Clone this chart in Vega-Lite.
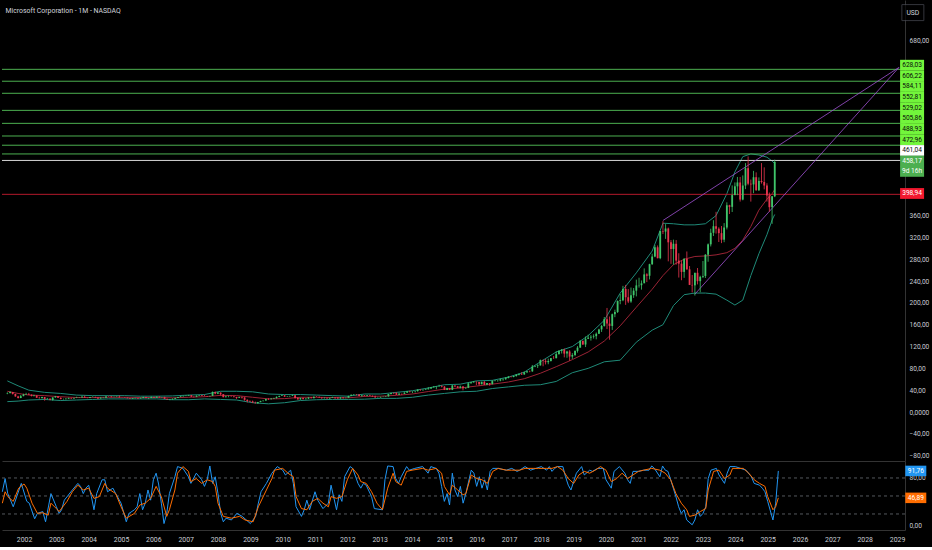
{
  "$schema": "https://vega.github.io/schema/vega-lite/v6.json",
  "background": "#000000",
  "padding": {"left": 0, "top": 0, "right": 4, "bottom": 5},
  "spacing": 0,
  "bounds": "flush",
  "config": {
    "view": {"stroke": null},
    "font": "Roboto, sans-serif",
    "axis": {"grid": false, "ticks": false, "labelOverlap": false, "labelColor": "#c9ccd4", "domainColor": "#333333", "labelFont": "Roboto, sans-serif", "labelFontSize": 6.6},
    "axisY": {"labelOverlap": false},
    "axisRight": {"labelOverlap": false}
  },
  "datasets": {
    "bars": [
      {"t":"2001-05","o":33.9,"h":36.0,"l":32.6,"c":34.6},{"t":"2001-06","o":34.6,"h":38.1,"l":33.9,"c":36.5},{"t":"2001-07","o":36.5,"h":36.7,"l":32.0,"c":33.1},{"t":"2001-08","o":33.1,"h":33.4,"l":28.0,"c":28.5},
      {"t":"2001-09","o":28.5,"h":29.8,"l":24.8,"c":25.6},{"t":"2001-10","o":25.6,"h":31.2,"l":25.4,"c":29.1},{"t":"2001-11","o":29.1,"h":33.4,"l":28.8,"c":32.1},{"t":"2001-12","o":32.1,"h":35.2,"l":32.0,"c":33.1},
      {"t":"2002-01","o":33.1,"h":35.0,"l":31.2,"c":31.9},{"t":"2002-02","o":31.9,"h":32.0,"l":28.7,"c":29.2},{"t":"2002-03","o":29.2,"h":31.7,"l":28.4,"c":30.2},{"t":"2002-04","o":30.2,"h":30.5,"l":25.8,"c":26.1},
      {"t":"2002-05","o":26.1,"h":28.0,"l":24.3,"c":25.5},{"t":"2002-06","o":25.5,"h":27.9,"l":24.4,"c":27.4},{"t":"2002-07","o":27.4,"h":27.6,"l":20.7,"c":24.0},{"t":"2002-08","o":24.0,"h":25.9,"l":23.0,"c":24.5},
      {"t":"2002-09","o":24.5,"h":25.2,"l":21.4,"c":21.9},{"t":"2002-10","o":21.9,"h":27.0,"l":20.8,"c":26.7},{"t":"2002-11","o":26.7,"h":29.4,"l":26.3,"c":28.9},{"t":"2002-12","o":28.9,"h":29.0,"l":25.6,"c":25.9},
      {"t":"2003-01","o":25.9,"h":27.0,"l":23.3,"c":23.7},{"t":"2003-02","o":23.7,"h":24.6,"l":22.7,"c":23.7},{"t":"2003-03","o":23.7,"h":25.4,"l":22.6,"c":24.2},{"t":"2003-04","o":24.2,"h":26.4,"l":24.0,"c":25.6},
      {"t":"2003-05","o":25.6,"h":26.2,"l":24.5,"c":24.6},{"t":"2003-06","o":24.6,"h":26.4,"l":24.2,"c":25.6},{"t":"2003-07","o":25.6,"h":28.0,"l":25.5,"c":26.4},{"t":"2003-08","o":26.4,"h":27.0,"l":25.6,"c":26.5},
      {"t":"2003-09","o":26.5,"h":29.9,"l":26.4,"c":27.8},{"t":"2003-10","o":27.8,"h":30.0,"l":26.0,"c":26.1},{"t":"2003-11","o":26.1,"h":26.4,"l":25.1,"c":25.7},{"t":"2003-12","o":25.7,"h":27.6,"l":25.5,"c":27.4},
      {"t":"2004-01","o":27.4,"h":28.8,"l":26.9,"c":27.6},{"t":"2004-02","o":27.6,"h":28.1,"l":26.3,"c":26.5},{"t":"2004-03","o":26.5,"h":27.2,"l":24.0,"c":24.9},{"t":"2004-04","o":24.9,"h":27.2,"l":24.6,"c":26.1},
      {"t":"2004-05","o":26.1,"h":26.9,"l":25.4,"c":26.2},{"t":"2004-06","o":26.2,"h":28.9,"l":26.0,"c":28.6},{"t":"2004-07","o":28.6,"h":29.9,"l":28.0,"c":28.5},{"t":"2004-08","o":28.5,"h":28.7,"l":26.8,"c":27.3},
      {"t":"2004-09","o":27.3,"h":28.5,"l":26.9,"c":27.7},{"t":"2004-10","o":27.7,"h":28.8,"l":27.3,"c":28.0},{"t":"2004-11","o":28.0,"h":30.2,"l":26.3,"c":26.8},{"t":"2004-12","o":26.8,"h":27.4,"l":26.6,"c":26.7},
      {"t":"2005-01","o":26.7,"h":27.0,"l":25.6,"c":26.3},{"t":"2005-02","o":26.3,"h":26.6,"l":25.1,"c":25.2},{"t":"2005-03","o":25.2,"h":25.4,"l":23.9,"c":24.2},{"t":"2005-04","o":24.2,"h":25.6,"l":23.8,"c":25.3},
      {"t":"2005-05","o":25.3,"h":26.0,"l":25.1,"c":25.8},{"t":"2005-06","o":25.8,"h":26.1,"l":24.6,"c":24.8},{"t":"2005-07","o":24.8,"h":27.0,"l":24.6,"c":25.6},{"t":"2005-08","o":25.6,"h":27.9,"l":25.5,"c":27.4},
      {"t":"2005-09","o":27.4,"h":27.9,"l":25.2,"c":25.7},{"t":"2005-10","o":25.7,"h":25.9,"l":23.8,"c":25.7},{"t":"2005-11","o":25.7,"h":28.2,"l":25.6,"c":27.7},{"t":"2005-12","o":27.7,"h":28.1,"l":26.1,"c":26.1},
      {"t":"2006-01","o":26.1,"h":28.4,"l":26.1,"c":28.2},{"t":"2006-02","o":28.2,"h":28.2,"l":26.3,"c":26.9},{"t":"2006-03","o":26.9,"h":27.6,"l":26.6,"c":27.2},{"t":"2006-04","o":27.2,"h":27.9,"l":23.9,"c":24.2},
      {"t":"2006-05","o":24.2,"h":24.3,"l":22.5,"c":22.7},{"t":"2006-06","o":22.7,"h":23.6,"l":21.5,"c":23.3},{"t":"2006-07","o":23.3,"h":25.0,"l":22.2,"c":24.1},{"t":"2006-08","o":24.1,"h":26.2,"l":23.9,"c":25.7},
      {"t":"2006-09","o":25.7,"h":27.6,"l":25.6,"c":27.4},{"t":"2006-10","o":27.4,"h":29.0,"l":27.3,"c":28.7},{"t":"2006-11","o":28.7,"h":30.0,"l":28.5,"c":29.4},{"t":"2006-12","o":29.4,"h":30.3,"l":29.0,"c":29.9},
      {"t":"2007-01","o":29.9,"h":31.5,"l":29.4,"c":30.9},{"t":"2007-02","o":30.9,"h":31.0,"l":27.8,"c":28.2},{"t":"2007-03","o":28.2,"h":28.6,"l":26.6,"c":27.9},{"t":"2007-04","o":27.9,"h":30.3,"l":27.4,"c":29.9},
      {"t":"2007-05","o":29.9,"h":31.2,"l":29.5,"c":30.7},{"t":"2007-06","o":30.7,"h":31.2,"l":29.4,"c":29.5},{"t":"2007-07","o":29.5,"h":31.8,"l":28.9,"c":29.0},{"t":"2007-08","o":29.0,"h":29.5,"l":27.5,"c":28.7},
      {"t":"2007-09","o":28.7,"h":29.9,"l":28.1,"c":29.5},{"t":"2007-10","o":29.5,"h":37.5,"l":29.3,"c":36.8},{"t":"2007-11","o":36.8,"h":37.3,"l":32.5,"c":33.6},{"t":"2007-12","o":33.6,"h":36.7,"l":32.8,"c":35.6},
      {"t":"2008-01","o":35.6,"h":35.9,"l":30.0,"c":32.6},{"t":"2008-02","o":32.6,"h":33.0,"l":26.9,"c":27.2},{"t":"2008-03","o":27.2,"h":29.6,"l":26.8,"c":28.4},{"t":"2008-04","o":28.4,"h":30.2,"l":27.0,"c":28.5},
      {"t":"2008-05","o":28.5,"h":30.0,"l":27.9,"c":28.3},{"t":"2008-06","o":28.3,"h":29.0,"l":26.5,"c":27.5},{"t":"2008-07","o":27.5,"h":27.8,"l":23.9,"c":25.7},{"t":"2008-08","o":25.7,"h":28.1,"l":25.6,"c":27.3},
      {"t":"2008-09","o":27.3,"h":28.5,"l":24.6,"c":26.7},{"t":"2008-10","o":26.7,"h":27.0,"l":20.7,"c":22.3},{"t":"2008-11","o":22.3,"h":23.2,"l":17.5,"c":20.2},{"t":"2008-12","o":20.2,"h":21.3,"l":18.5,"c":19.4},
      {"t":"2009-01","o":19.4,"h":21.0,"l":16.7,"c":17.1},{"t":"2009-02","o":17.1,"h":19.0,"l":15.4,"c":16.2},{"t":"2009-03","o":16.2,"h":18.5,"l":15.1,"c":18.4},{"t":"2009-04","o":18.4,"h":20.5,"l":17.9,"c":20.3},
      {"t":"2009-05","o":20.3,"h":21.2,"l":19.2,"c":20.9},{"t":"2009-06","o":20.9,"h":24.3,"l":20.8,"c":23.8},{"t":"2009-07","o":23.8,"h":25.7,"l":22.0,"c":23.5},{"t":"2009-08","o":23.5,"h":25.2,"l":22.9,"c":24.7},
      {"t":"2009-09","o":24.7,"h":26.1,"l":24.3,"c":25.7},{"t":"2009-10","o":25.7,"h":28.6,"l":24.4,"c":27.7},{"t":"2009-11","o":27.7,"h":30.0,"l":27.0,"c":29.4},{"t":"2009-12","o":29.4,"h":31.5,"l":29.3,"c":30.5},
      {"t":"2010-01","o":30.5,"h":31.2,"l":27.7,"c":28.2},{"t":"2010-02","o":28.2,"h":29.0,"l":27.6,"c":28.7},{"t":"2010-03","o":28.7,"h":29.9,"l":28.2,"c":29.3},{"t":"2010-04","o":29.3,"h":31.6,"l":29.2,"c":30.5},
      {"t":"2010-05","o":30.5,"h":31.0,"l":24.5,"c":25.8},{"t":"2010-06","o":25.8,"h":27.0,"l":22.9,"c":23.0},{"t":"2010-07","o":23.0,"h":26.4,"l":22.7,"c":25.8},{"t":"2010-08","o":25.8,"h":26.3,"l":23.3,"c":23.5},
      {"t":"2010-09","o":23.5,"h":25.3,"l":23.2,"c":24.5},{"t":"2010-10","o":24.5,"h":27.2,"l":23.8,"c":26.7},{"t":"2010-11","o":26.7,"h":27.5,"l":25.1,"c":25.3},{"t":"2010-12","o":25.3,"h":28.4,"l":25.2,"c":27.9},
      {"t":"2011-01","o":27.9,"h":28.9,"l":27.4,"c":27.7},{"t":"2011-02","o":27.7,"h":28.3,"l":26.4,"c":26.6},{"t":"2011-03","o":26.6,"h":26.8,"l":24.2,"c":25.4},{"t":"2011-04","o":25.4,"h":26.9,"l":24.8,"c":26.0},
      {"t":"2011-05","o":26.0,"h":26.2,"l":24.0,"c":25.0},{"t":"2011-06","o":25.0,"h":26.2,"l":23.6,"c":26.0},{"t":"2011-07","o":26.0,"h":28.0,"l":25.9,"c":27.4},{"t":"2011-08","o":27.4,"h":27.5,"l":23.8,"c":26.6},
      {"t":"2011-09","o":26.6,"h":27.5,"l":24.2,"c":24.9},{"t":"2011-10","o":24.9,"h":27.4,"l":24.3,"c":26.6},{"t":"2011-11","o":26.6,"h":27.2,"l":24.3,"c":25.6},{"t":"2011-12","o":25.6,"h":26.2,"l":25.0,"c":26.0},
      {"t":"2012-01","o":26.0,"h":29.9,"l":26.0,"c":29.5},{"t":"2012-02","o":29.5,"h":31.9,"l":29.5,"c":31.7},{"t":"2012-03","o":31.7,"h":32.9,"l":31.3,"c":32.3},{"t":"2012-04","o":32.3,"h":32.9,"l":30.6,"c":32.0},
      {"t":"2012-05","o":32.0,"h":32.5,"l":28.9,"c":29.2},{"t":"2012-06","o":29.2,"h":30.9,"l":28.3,"c":30.6},{"t":"2012-07","o":30.6,"h":31.0,"l":28.5,"c":29.5},{"t":"2012-08","o":29.5,"h":31.0,"l":29.2,"c":30.8},
      {"t":"2012-09","o":30.8,"h":31.6,"l":29.6,"c":29.8},{"t":"2012-10","o":29.8,"h":30.2,"l":27.9,"c":28.5},{"t":"2012-11","o":28.5,"h":30.0,"l":26.3,"c":26.6},{"t":"2012-12","o":26.6,"h":27.7,"l":26.3,"c":26.7},
      {"t":"2013-01","o":26.7,"h":28.2,"l":26.3,"c":27.5},{"t":"2013-02","o":27.5,"h":28.2,"l":27.3,"c":27.8},{"t":"2013-03","o":27.8,"h":28.8,"l":27.6,"c":28.6},{"t":"2013-04","o":28.6,"h":33.1,"l":28.3,"c":33.1},
      {"t":"2013-05","o":33.1,"h":35.3,"l":32.0,"c":34.9},{"t":"2013-06","o":34.9,"h":35.8,"l":32.6,"c":34.5},{"t":"2013-07","o":34.5,"h":36.4,"l":31.2,"c":31.8},{"t":"2013-08","o":31.8,"h":35.2,"l":31.1,"c":33.4},
      {"t":"2013-09","o":33.4,"h":34.0,"l":31.0,"c":33.3},{"t":"2013-10","o":33.3,"h":36.3,"l":33.1,"c":35.4},{"t":"2013-11","o":35.4,"h":38.3,"l":35.2,"c":38.1},{"t":"2013-12","o":38.1,"h":38.9,"l":35.8,"c":37.4},
      {"t":"2014-01","o":37.4,"h":37.9,"l":34.6,"c":37.8},{"t":"2014-02","o":37.8,"h":38.5,"l":35.7,"c":38.3},{"t":"2014-03","o":38.3,"h":41.5,"l":37.3,"c":41.0},{"t":"2014-04","o":41.0,"h":41.7,"l":38.5,"c":40.4},
      {"t":"2014-05","o":40.4,"h":41.0,"l":38.5,"c":40.9},{"t":"2014-06","o":40.9,"h":42.3,"l":40.2,"c":41.7},{"t":"2014-07","o":41.7,"h":45.7,"l":41.3,"c":43.2},{"t":"2014-08","o":43.2,"h":45.6,"l":42.1,"c":45.4},
      {"t":"2014-09","o":45.4,"h":47.6,"l":44.7,"c":46.4},{"t":"2014-10","o":46.4,"h":47.0,"l":41.6,"c":47.0},{"t":"2014-11","o":47.0,"h":50.0,"l":46.6,"c":47.8},{"t":"2014-12","o":47.8,"h":49.0,"l":45.0,"c":46.5},
      {"t":"2015-01","o":46.5,"h":47.4,"l":40.2,"c":40.4},{"t":"2015-02","o":40.4,"h":44.3,"l":40.1,"c":43.9},{"t":"2015-03","o":43.9,"h":44.2,"l":40.2,"c":40.7},{"t":"2015-04","o":40.7,"h":49.5,"l":40.1,"c":48.6},
      {"t":"2015-05","o":48.6,"h":48.9,"l":46.2,"c":46.9},{"t":"2015-06","o":46.9,"h":47.8,"l":44.1,"c":44.2},{"t":"2015-07","o":44.2,"h":48.4,"l":43.3,"c":46.7},{"t":"2015-08","o":46.7,"h":47.5,"l":39.7,"c":43.5},
      {"t":"2015-09","o":43.5,"h":45.0,"l":42.5,"c":44.3},{"t":"2015-10","o":44.3,"h":54.0,"l":43.8,"c":52.6},{"t":"2015-11","o":52.6,"h":54.8,"l":52.0,"c":54.4},{"t":"2015-12","o":54.4,"h":56.8,"l":53.7,"c":55.5},
      {"t":"2016-01","o":55.5,"h":56.0,"l":49.1,"c":55.1},{"t":"2016-02","o":55.1,"h":55.1,"l":48.2,"c":50.9},{"t":"2016-03","o":50.9,"h":55.6,"l":50.6,"c":55.2},{"t":"2016-04","o":55.2,"h":56.8,"l":49.4,"c":49.9},
      {"t":"2016-05","o":49.9,"h":53.0,"l":49.5,"c":53.0},{"t":"2016-06","o":53.0,"h":52.9,"l":48.0,"c":51.2},{"t":"2016-07","o":51.2,"h":58.5,"l":50.4,"c":56.7},{"t":"2016-08","o":56.7,"h":58.5,"l":56.1,"c":57.5},
      {"t":"2016-09","o":57.5,"h":58.7,"l":55.6,"c":57.6},{"t":"2016-10","o":57.6,"h":61.4,"l":56.3,"c":59.9},{"t":"2016-11","o":59.9,"h":61.4,"l":57.3,"c":60.3},{"t":"2016-12","o":60.3,"h":64.1,"l":58.8,"c":62.1},
      {"t":"2017-01","o":62.1,"h":65.9,"l":61.9,"c":64.7},{"t":"2017-02","o":64.7,"h":65.2,"l":63.6,"c":64.0},{"t":"2017-03","o":64.0,"h":66.2,"l":63.6,"c":65.9},{"t":"2017-04","o":65.9,"h":69.1,"l":64.8,"c":68.5},
      {"t":"2017-05","o":68.5,"h":70.7,"l":67.1,"c":69.8},{"t":"2017-06","o":69.8,"h":72.9,"l":67.9,"c":68.9},{"t":"2017-07","o":68.9,"h":74.4,"l":68.0,"c":72.7},{"t":"2017-08","o":72.7,"h":74.9,"l":71.3,"c":74.8},
      {"t":"2017-09","o":74.8,"h":75.9,"l":72.9,"c":74.5},{"t":"2017-10","o":74.5,"h":86.2,"l":73.7,"c":83.2},{"t":"2017-11","o":83.2,"h":85.1,"l":82.2,"c":84.2},{"t":"2017-12","o":84.2,"h":87.5,"l":80.7,"c":85.5},
      {"t":"2018-01","o":85.5,"h":96.1,"l":85.0,"c":95.0},{"t":"2018-02","o":95.0,"h":96.1,"l":83.8,"c":93.8},{"t":"2018-03","o":93.8,"h":97.2,"l":87.1,"c":91.3},{"t":"2018-04","o":91.3,"h":97.9,"l":87.5,"c":93.5},
      {"t":"2018-05","o":93.5,"h":99.0,"l":92.5,"c":98.8},{"t":"2018-06","o":98.8,"h":102.7,"l":97.3,"c":98.6},{"t":"2018-07","o":98.6,"h":111.2,"l":98.4,"c":106.1},{"t":"2018-08","o":106.1,"h":112.8,"l":104.8,"c":112.3},
      {"t":"2018-09","o":112.3,"h":115.3,"l":107.2,"c":114.4},{"t":"2018-10","o":114.4,"h":116.2,"l":100.1,"c":107.0},{"t":"2018-11","o":107.0,"h":112.2,"l":99.4,"c":110.9},{"t":"2018-12","o":110.9,"h":113.4,"l":93.9,"c":101.6},
      {"t":"2019-01","o":101.6,"h":107.9,"l":97.2,"c":104.4},{"t":"2019-02","o":104.4,"h":113.2,"l":102.3,"c":112.0},{"t":"2019-03","o":112.0,"h":120.8,"l":108.8,"c":117.9},{"t":"2019-04","o":117.9,"h":131.4,"l":118.1,"c":130.6},
      {"t":"2019-05","o":130.6,"h":130.7,"l":123.0,"c":123.7},{"t":"2019-06","o":123.7,"h":138.4,"l":119.0,"c":134.0},{"t":"2019-07","o":134.0,"h":141.7,"l":134.7,"c":136.3},{"t":"2019-08","o":136.3,"h":140.9,"l":130.8,"c":137.9},
      {"t":"2019-09","o":137.9,"h":142.4,"l":134.5,"c":139.0},{"t":"2019-10","o":139.0,"h":145.7,"l":133.2,"c":143.4},{"t":"2019-11","o":143.4,"h":152.5,"l":143.0,"c":151.4},{"t":"2019-12","o":151.4,"h":159.6,"l":146.7,"c":157.7},
      {"t":"2020-01","o":157.7,"h":174.1,"l":156.5,"c":170.2},{"t":"2020-02","o":170.2,"h":190.7,"l":152.0,"c":162.0},{"t":"2020-03","o":162.0,"h":175.0,"l":132.5,"c":157.7},{"t":"2020-04","o":157.7,"h":180.4,"l":150.4,"c":179.2},
      {"t":"2020-05","o":179.2,"h":187.5,"l":173.8,"c":183.3},{"t":"2020-06","o":183.3,"h":204.4,"l":181.4,"c":203.5},{"t":"2020-07","o":203.5,"h":216.4,"l":197.5,"c":205.0},{"t":"2020-08","o":205.0,"h":231.2,"l":203.1,"c":225.5},
      {"t":"2020-09","o":225.5,"h":232.9,"l":196.3,"c":210.3},{"t":"2020-10","o":210.3,"h":225.2,"l":199.6,"c":202.5},{"t":"2020-11","o":202.5,"h":228.1,"l":200.1,"c":214.1},{"t":"2020-12","o":214.1,"h":227.2,"l":209.1,"c":222.4},
      {"t":"2021-01","o":222.4,"h":242.6,"l":211.9,"c":232.0},{"t":"2021-02","o":232.0,"h":246.1,"l":227.9,"c":232.4},{"t":"2021-03","o":232.4,"h":241.1,"l":224.3,"c":235.8},{"t":"2021-04","o":235.8,"h":263.2,"l":238.1,"c":252.2},
      {"t":"2021-05","o":252.2,"h":254.4,"l":238.1,"c":249.7},{"t":"2021-06","o":249.7,"h":271.7,"l":243.0,"c":270.9},{"t":"2021-07","o":270.9,"h":290.2,"l":269.6,"c":284.9},{"t":"2021-08","o":284.9,"h":305.8,"l":283.7,"c":301.9},
      {"t":"2021-09","o":301.9,"h":305.3,"l":281.6,"c":281.9},{"t":"2021-10","o":281.9,"h":332.0,"l":280.0,"c":331.6},{"t":"2021-11","o":331.6,"h":349.7,"l":326.1,"c":330.6},{"t":"2021-12","o":330.6,"h":344.3,"l":317.3,"c":336.3},
      {"t":"2022-01","o":336.3,"h":338.0,"l":276.1,"c":311.0},{"t":"2022-02","o":311.0,"h":315.1,"l":271.5,"c":298.8},{"t":"2022-03","o":298.8,"h":315.9,"l":270.0,"c":308.3},{"t":"2022-04","o":308.3,"h":315.1,"l":270.0,"c":277.5},
      {"t":"2022-05","o":277.5,"h":290.9,"l":246.4,"c":271.9},{"t":"2022-06","o":271.9,"h":277.7,"l":241.5,"c":256.8},{"t":"2022-07","o":256.8,"h":282.0,"l":245.9,"c":280.7},{"t":"2022-08","o":280.7,"h":294.2,"l":260.7,"c":261.5},
      {"t":"2022-09","o":261.5,"h":267.5,"l":232.7,"c":232.9},{"t":"2022-10","o":232.9,"h":251.0,"l":219.1,"c":232.1},{"t":"2022-11","o":232.1,"h":255.3,"l":213.4,"c":255.1},{"t":"2022-12","o":255.1,"h":263.9,"l":233.9,"c":239.8},
      {"t":"2023-01","o":239.8,"h":249.8,"l":219.4,"c":247.8},{"t":"2023-02","o":247.8,"h":276.8,"l":245.5,"c":249.4},{"t":"2023-03","o":249.4,"h":289.3,"l":245.6,"c":288.3},{"t":"2023-04","o":288.3,"h":308.9,"l":275.4,"c":307.3},
      {"t":"2023-05","o":307.3,"h":335.9,"l":303.4,"c":328.4},{"t":"2023-06","o":328.4,"h":351.5,"l":322.5,"c":340.5},{"t":"2023-07","o":340.5,"h":366.8,"l":327.0,"c":335.9},{"t":"2023-08","o":335.9,"h":338.5,"l":311.6,"c":327.8},
      {"t":"2023-09","o":327.8,"h":340.9,"l":309.5,"c":315.8},{"t":"2023-10","o":315.8,"h":346.2,"l":311.2,"c":338.1},{"t":"2023-11","o":338.1,"h":384.3,"l":334.6,"c":378.9},{"t":"2023-12","o":378.9,"h":379.8,"l":362.9,"c":376.0},
      {"t":"2024-01","o":376.0,"h":415.3,"l":366.5,"c":397.6},{"t":"2024-02","o":397.6,"h":420.8,"l":397.2,"c":413.6},{"t":"2024-03","o":413.6,"h":430.8,"l":397.4,"c":420.7},{"t":"2024-04","o":420.7,"h":430.8,"l":385.6,"c":389.3},
      {"t":"2024-05","o":389.3,"h":433.6,"l":388.0,"c":415.1},{"t":"2024-06","o":415.1,"h":456.2,"l":408.5,"c":446.9},{"t":"2024-07","o":446.9,"h":468.4,"l":415.6,"c":418.4},{"t":"2024-08","o":418.4,"h":426.0,"l":385.6,"c":417.1},
      {"t":"2024-09","o":417.1,"h":441.9,"l":401.0,"c":430.3},{"t":"2024-10","o":430.3,"h":439.2,"l":405.6,"c":406.4},{"t":"2024-11","o":406.4,"h":430.0,"l":405.1,"c":423.5},{"t":"2024-12","o":423.5,"h":456.2,"l":418.6,"c":421.5},
      {"t":"2025-01","o":421.5,"h":448.4,"l":408.1,"c":415.1},{"t":"2025-02","o":415.1,"h":419.3,"l":385.6,"c":397.0},{"t":"2025-03","o":397.0,"h":402.2,"l":367.2,"c":375.4},{"t":"2025-04","o":375.4,"h":395.9,"l":344.8,"c":395.3},
      {"t":"2025-05","o":395.3,"h":462.5,"l":393.8,"c":458.17}
    ],
    "bb": [
      {"t":"2001-05","u":57,"m":38,"lo":19},{"t":"2001-09","u":48,"m":34,"lo":20},{"t":"2002-01","u":40,"m":31,"lo":22},{"t":"2002-07","u":36,"m":30,"lo":23},
      {"t":"2003-01","u":34,"m":28,"lo":21},{"t":"2003-07","u":31,"m":26.5,"lo":22},{"t":"2004-01","u":30,"m":26.5,"lo":23},{"t":"2004-07","u":30,"m":27,"lo":24},
      {"t":"2005-01","u":30,"m":27,"lo":24},{"t":"2005-07","u":29,"m":26.5,"lo":24},{"t":"2006-01","u":29,"m":26.5,"lo":24},{"t":"2006-07","u":29.5,"m":26,"lo":22.5},
      {"t":"2007-01","u":31,"m":27,"lo":22.5},{"t":"2007-07","u":32,"m":28,"lo":24},{"t":"2008-01","u":38,"m":30.5,"lo":23},{"t":"2008-07","u":38,"m":30,"lo":22},
      {"t":"2009-01","u":37,"m":27,"lo":17},{"t":"2009-07","u":33,"m":24,"lo":15},{"t":"2010-01","u":32,"m":24.5,"lo":17},{"t":"2010-07","u":32,"m":27,"lo":21},
      {"t":"2011-01","u":31,"m":27,"lo":22.5},{"t":"2011-07","u":30,"m":26.5,"lo":23},{"t":"2012-01","u":29,"m":26,"lo":23},{"t":"2012-07","u":33,"m":28.5,"lo":23.5},
      {"t":"2013-01","u":33,"m":29,"lo":25},{"t":"2013-07","u":36,"m":30.5,"lo":25},{"t":"2014-01","u":39,"m":33,"lo":27},{"t":"2014-07","u":44,"m":37.5,"lo":31},
      {"t":"2015-01","u":50,"m":42,"lo":34},{"t":"2015-07","u":51,"m":44,"lo":37},{"t":"2016-01","u":57,"m":47.5,"lo":38},{"t":"2016-07","u":58,"m":51,"lo":43},
      {"t":"2017-01","u":64,"m":55,"lo":46},{"t":"2017-07","u":73,"m":61,"lo":49},{"t":"2018-01","u":92,"m":71,"lo":50},{"t":"2018-07","u":110,"m":83,"lo":56},
      {"t":"2019-01","u":120,"m":96,"lo":72},{"t":"2019-07","u":140,"m":110,"lo":80},{"t":"2020-01","u":168,"m":130,"lo":92},{"t":"2020-07","u":218,"m":158,"lo":95},
      {"t":"2021-01","u":255,"m":192,"lo":128},{"t":"2021-07","u":295,"m":225,"lo":150},{"t":"2021-11","u":346,"m":250,"lo":160},{"t":"2022-03","u":345,"m":270,"lo":195},
      {"t":"2022-07","u":343,"m":280,"lo":215},{"t":"2022-11","u":343,"m":285,"lo":218},{"t":"2023-03","u":345,"m":286,"lo":218},{"t":"2023-07","u":360,"m":288,"lo":216},
      {"t":"2023-11","u":400,"m":292,"lo":205},{"t":"2024-02","u":440,"m":300,"lo":196},{"t":"2024-05","u":468,"m":315,"lo":205},{"t":"2024-08","u":473,"m":340,"lo":250},
      {"t":"2024-11","u":471,"m":370,"lo":290},{"t":"2025-02","u":467,"m":390,"lo":325},{"t":"2025-04","u":460,"m":400,"lo":352},{"t":"2025-05","u":455,"m":408,"lo":362}
    ],
    "levels": [
      {"p":628.03,"kind":"level"},{"p":606.22,"kind":"level"},{"p":584.11,"kind":"level"},{"p":552.81,"kind":"level"},
      {"p":529.02,"kind":"level"},{"p":505.86,"kind":"level"},{"p":488.93,"kind":"level"},{"p":472.96,"kind":"level"},
      {"p":461.04,"kind":"last"},{"p":398.94,"kind":"stop"}
    ],
    "tags": [
      {"label":"628,03","at":635.6,"kind":"level"},{"label":"606,22","at":616.0,"kind":"level"},{"label":"584,11","at":596.6,"kind":"level"},{"label":"552,81","at":576.9,"kind":"level"},
      {"label":"529,02","at":557.5,"kind":"level"},{"label":"505,86","at":538.1,"kind":"level"},{"label":"488,93","at":518.7,"kind":"level"},{"label":"472,96","at":499.1,"kind":"level"},
      {"label":"461,04","at":479.3,"kind":"last"},{"label":"458,17","at":460.0,"kind":"now"},{"label":"9d 16h","at":441.0,"kind":"now"},{"label":"398,94","at":400.5,"kind":"stop"}
    ],
    "trend": [
      {"g":"a","t":"2021-11","p":351},{"g":"a","t":"2029-03-20","p":631.5},
      {"g":"b","t":"2022-11","p":216},{"g":"b","t":"2029-03-20","p":631.5}
    ],
    "k": [
      {"t":"2001-05","v":57},{"t":"2001-06","v":79},{"t":"2001-07","v":54},{"t":"2001-09","v":32},{"t":"2001-12","v":71},{"t":"2002-02","v":41},{"t":"2002-03","v":38},{"t":"2002-05","v":12},
      {"t":"2002-06","v":21},{"t":"2002-08","v":24},{"t":"2002-09","v":7},{"t":"2002-11","v":54},{"t":"2003-01","v":32},{"t":"2003-02","v":21},{"t":"2003-03","v":27},{"t":"2003-04","v":43},
      {"t":"2003-07","v":60},{"t":"2003-09","v":71},{"t":"2003-10","v":66},{"t":"2003-11","v":54},{"t":"2003-12","v":63},{"t":"2004-01","v":68},{"t":"2004-02","v":49},{"t":"2004-03","v":27},
      {"t":"2004-04","v":54},{"t":"2004-06","v":77},{"t":"2004-07","v":77},{"t":"2004-08","v":57},{"t":"2004-10","v":63},{"t":"2004-11","v":54},{"t":"2005-01","v":38},{"t":"2005-03","v":7},
      {"t":"2005-04","v":21},{"t":"2005-06","v":27},{"t":"2005-07","v":32},{"t":"2005-08","v":54},{"t":"2005-09","v":27},{"t":"2005-10","v":38},{"t":"2005-11","v":60},{"t":"2005-12","v":43},
      {"t":"2006-01","v":77},{"t":"2006-02","v":88},{"t":"2006-03","v":70},{"t":"2006-04","v":38},{"t":"2006-05","v":4},{"t":"2006-06","v":21},{"t":"2006-07","v":54},{"t":"2006-09","v":82},
      {"t":"2006-10","v":99},{"t":"2006-12","v":96},{"t":"2007-02","v":82},{"t":"2007-03","v":71},{"t":"2007-05","v":88},{"t":"2007-07","v":77},{"t":"2007-08","v":66},{"t":"2007-09","v":77},
      {"t":"2007-10","v":100},{"t":"2007-11","v":71},{"t":"2007-12","v":82},{"t":"2008-01","v":54},{"t":"2008-02","v":21},{"t":"2008-03","v":7},{"t":"2008-04","v":13},{"t":"2008-06","v":10},
      {"t":"2008-08","v":21},{"t":"2008-10","v":16},{"t":"2009-01","v":4},{"t":"2009-03","v":16},{"t":"2009-04","v":38},{"t":"2009-05","v":57},{"t":"2009-07","v":71},{"t":"2009-09","v":88},
      {"t":"2009-11","v":99},{"t":"2010-01","v":93},{"t":"2010-02","v":85},{"t":"2010-04","v":93},{"t":"2010-05","v":71},{"t":"2010-06","v":32},{"t":"2010-08","v":16},{"t":"2010-09","v":27},
      {"t":"2010-10","v":43},{"t":"2010-11","v":27},{"t":"2011-01","v":57},{"t":"2011-02","v":43},{"t":"2011-04","v":29},{"t":"2011-06","v":38},{"t":"2011-07","v":68},{"t":"2011-09","v":27},
      {"t":"2011-10","v":52},{"t":"2011-11","v":41},{"t":"2011-12","v":82},{"t":"2012-02","v":99},{"t":"2012-03","v":96},{"t":"2012-05","v":71},{"t":"2012-06","v":63},{"t":"2012-07","v":71},
      {"t":"2012-08","v":68},{"t":"2012-10","v":49},{"t":"2012-11","v":29},{"t":"2013-02","v":27},{"t":"2013-03","v":77},{"t":"2013-04","v":100},{"t":"2013-06","v":99},{"t":"2013-07","v":79},
      {"t":"2013-08","v":71},{"t":"2013-09","v":82},{"t":"2013-11","v":99},{"t":"2013-12","v":93},{"t":"2014-02","v":96},{"t":"2014-05","v":99},{"t":"2014-07","v":88},{"t":"2014-08","v":99},
      {"t":"2014-10","v":96},{"t":"2014-11","v":88},{"t":"2014-12","v":66},{"t":"2015-01","v":41},{"t":"2015-02","v":54},{"t":"2015-03","v":35},{"t":"2015-04","v":88},{"t":"2015-05","v":60},
      {"t":"2015-06","v":49},{"t":"2015-07","v":66},{"t":"2015-08","v":38},{"t":"2015-09","v":54},{"t":"2015-11","v":93},{"t":"2015-12","v":88},{"t":"2016-01","v":66},{"t":"2016-02","v":82},
      {"t":"2016-03","v":63},{"t":"2016-04","v":77},{"t":"2016-05","v":60},{"t":"2016-06","v":91},{"t":"2016-07","v":96},{"t":"2016-09","v":96},{"t":"2016-12","v":93},{"t":"2017-02","v":96},
      {"t":"2017-04","v":91},{"t":"2017-05","v":93},{"t":"2017-07","v":99},{"t":"2017-09","v":93},{"t":"2017-11","v":96},{"t":"2018-01","v":99},{"t":"2018-03","v":93},{"t":"2018-04","v":99},
      {"t":"2018-05","v":91},{"t":"2018-06","v":96},{"t":"2018-07","v":99},{"t":"2018-09","v":99},{"t":"2018-10","v":82},{"t":"2018-11","v":68},{"t":"2018-12","v":60},{"t":"2019-01","v":74},
      {"t":"2019-02","v":88},{"t":"2019-04","v":99},{"t":"2019-05","v":85},{"t":"2019-07","v":93},{"t":"2019-08","v":91},{"t":"2019-10","v":96},{"t":"2019-12","v":96},{"t":"2020-01","v":77},
      {"t":"2020-03","v":63},{"t":"2020-04","v":91},{"t":"2020-06","v":99},{"t":"2020-08","v":88},{"t":"2020-09","v":77},{"t":"2020-10","v":71},{"t":"2020-11","v":91},{"t":"2021-01","v":91},
      {"t":"2021-03","v":93},{"t":"2021-05","v":93},{"t":"2021-06","v":100},{"t":"2021-07","v":96},{"t":"2021-09","v":82},{"t":"2021-10","v":100},{"t":"2021-11","v":93},{"t":"2021-12","v":91},
      {"t":"2022-01","v":77},{"t":"2022-03","v":49},{"t":"2022-04","v":32},{"t":"2022-05","v":21},{"t":"2022-06","v":27},{"t":"2022-07","v":10},{"t":"2022-09","v":2},{"t":"2022-10","v":10},
      {"t":"2022-11","v":27},{"t":"2022-12","v":16},{"t":"2023-01","v":21},{"t":"2023-02","v":32},{"t":"2023-03","v":79},{"t":"2023-04","v":93},{"t":"2023-06","v":96},{"t":"2023-07","v":85},
      {"t":"2023-09","v":71},{"t":"2023-10","v":88},{"t":"2023-11","v":99},{"t":"2024-01","v":99},{"t":"2024-03","v":96},{"t":"2024-05","v":93},{"t":"2024-07","v":82},{"t":"2024-08","v":71},
      {"t":"2024-10","v":68},{"t":"2024-11","v":63},{"t":"2024-12","v":57},{"t":"2025-01","v":41},{"t":"2025-03","v":10},{"t":"2025-04","v":38},{"t":"2025-05","v":91.76}
    ],
    "d": [
      {"t":"2001-05","v":38},{"t":"2001-06","v":57},{"t":"2001-07","v":49},{"t":"2001-09","v":41},{"t":"2001-11","v":63},{"t":"2002-01","v":70},{"t":"2002-02","v":63},{"t":"2002-04","v":38},
      {"t":"2002-06","v":21},{"t":"2002-08","v":22},{"t":"2002-10","v":18},{"t":"2002-11","v":38},{"t":"2003-01","v":29},{"t":"2003-02","v":24},{"t":"2003-05","v":41},{"t":"2003-07","v":57},
      {"t":"2003-09","v":68},{"t":"2003-11","v":60},{"t":"2004-01","v":63},{"t":"2004-03","v":46},{"t":"2004-05","v":49},{"t":"2004-07","v":71},{"t":"2004-08","v":63},{"t":"2004-11","v":54},
      {"t":"2005-01","v":32},{"t":"2005-03","v":13},{"t":"2005-06","v":21},{"t":"2005-08","v":35},{"t":"2005-10","v":38},{"t":"2005-12","v":46},{"t":"2006-02","v":66},{"t":"2006-04","v":49},
      {"t":"2006-06","v":16},{"t":"2006-07","v":27},{"t":"2006-09","v":60},{"t":"2006-10","v":88},{"t":"2006-12","v":99},{"t":"2007-02","v":91},{"t":"2007-03","v":74},{"t":"2007-05","v":79},
      {"t":"2007-07","v":71},{"t":"2007-09","v":77},{"t":"2007-11","v":74},{"t":"2007-12","v":66},{"t":"2008-01","v":38},{"t":"2008-03","v":16},{"t":"2008-06","v":13},{"t":"2008-09","v":16},
      {"t":"2008-11","v":10},{"t":"2009-02","v":7},{"t":"2009-04","v":32},{"t":"2009-07","v":60},{"t":"2009-09","v":79},{"t":"2009-10","v":93},{"t":"2010-01","v":96},{"t":"2010-03","v":88},
      {"t":"2010-05","v":82},{"t":"2010-06","v":49},{"t":"2010-08","v":29},{"t":"2010-10","v":27},{"t":"2010-12","v":41},{"t":"2011-02","v":46},{"t":"2011-04","v":38},{"t":"2011-06","v":32},
      {"t":"2011-07","v":49},{"t":"2011-09","v":46},{"t":"2011-11","v":49},{"t":"2012-01","v":77},{"t":"2012-03","v":96},{"t":"2012-05","v":85},{"t":"2012-06","v":74},{"t":"2012-08","v":71},
      {"t":"2012-10","v":57},{"t":"2012-12","v":38},{"t":"2013-02","v":27},{"t":"2013-04","v":63},{"t":"2013-06","v":88},{"t":"2013-07","v":74},{"t":"2013-09","v":68},{"t":"2013-11","v":91},
      {"t":"2014-01","v":93},{"t":"2014-05","v":96},{"t":"2014-07","v":93},{"t":"2014-10","v":96},{"t":"2014-12","v":88},{"t":"2015-01","v":66},{"t":"2015-03","v":52},{"t":"2015-04","v":68},
      {"t":"2015-06","v":60},{"t":"2015-08","v":52},{"t":"2015-09","v":54},{"t":"2015-11","v":85},{"t":"2016-01","v":79},{"t":"2016-03","v":77},{"t":"2016-05","v":71},{"t":"2016-07","v":91},
      {"t":"2016-09","v":96},{"t":"2016-12","v":93},{"t":"2017-02","v":93},{"t":"2017-05","v":93},{"t":"2017-07","v":96},{"t":"2017-10","v":96},{"t":"2017-12","v":96},{"t":"2018-03","v":96},
      {"t":"2018-05","v":96},{"t":"2018-07","v":99},{"t":"2018-09","v":93},{"t":"2018-11","v":79},{"t":"2019-01","v":71},{"t":"2019-03","v":85},{"t":"2019-05","v":91},{"t":"2019-07","v":88},
      {"t":"2019-09","v":93},{"t":"2019-11","v":99},{"t":"2020-01","v":93},{"t":"2020-03","v":74},{"t":"2020-05","v":79},{"t":"2020-07","v":88},{"t":"2020-09","v":79},{"t":"2020-11","v":85},
      {"t":"2021-01","v":91},{"t":"2021-03","v":93},{"t":"2021-06","v":96},{"t":"2021-09","v":93},{"t":"2021-11","v":88},{"t":"2022-01","v":77},{"t":"2022-03","v":54},{"t":"2022-05","v":38},
      {"t":"2022-07","v":27},{"t":"2022-08","v":16},{"t":"2022-10","v":18},{"t":"2022-12","v":24},{"t":"2023-02","v":29},{"t":"2023-03","v":60},{"t":"2023-05","v":91},{"t":"2023-07","v":93},
      {"t":"2023-09","v":79},{"t":"2023-11","v":85},{"t":"2023-12","v":96},{"t":"2024-02","v":96},{"t":"2024-04","v":96},{"t":"2024-06","v":88},{"t":"2024-08","v":77},{"t":"2024-10","v":71},
      {"t":"2024-12","v":66},{"t":"2025-01","v":49},{"t":"2025-03","v":27},{"t":"2025-04","v":32},{"t":"2025-05","v":46.89}
    ],
    "rsitags": [
      {"label":"91,76","v":91.76,"kind":"k"},{"label":"46,89","v":46.89,"kind":"d"}
    ]
  },
  "vconcat": [
    {
      "width": 903,
      "height": 461,
      "title": {"text": "Microsoft Corporation - 1M - NASDAQ", "anchor": "start", "orient": "top", "offset": 0, "dx": 4, "dy": 14.5, "fontSize": 6.9, "fontWeight": "normal", "color": "#d1d4dc", "font": "Roboto, sans-serif"},
      "encoding": {
        "y": {"type": "quantitative", "scale": {"domain": [-89.8, 755.1], "nice": false, "zero": false}, "axis": {"orient": "right", "title": null, "values": [-80, -40, 0, 40, 80, 120, 160, 200, 240, 280, 320, 360, 680], "labelExpr": "datum.value == 0 ? '0,0000' : replace(format(datum.value, '.2f'), '.', ',')", "labelOverlap": false, "labelPadding": 4, "domainColor": "#333333"}}
      },
      "layer": [
        {
          "data": {"name": "bb"},
          "mark": {"type": "line", "color": "#1f8a78", "strokeWidth": 1},
          "encoding": {
            "x": {"field": "t", "type": "temporal", "scale": {"type": "utc", "domain": [{"year": 2001, "month": 4, "date": 27, "utc": true}, {"year": 2029, "month": 4, "date": 1, "utc": true}]}, "axis": {"orient": "bottom", "labels": false, "ticks": false, "domain": true, "domainColor": "#333333", "title": null}},
            "y": {"field": "u", "type": "quantitative"}
          }
        },
        {
          "data": {"name": "bb"},
          "mark": {"type": "line", "color": "#1f8a78", "strokeWidth": 1},
          "encoding": {
            "x": {"field": "t", "type": "temporal"},
            "y": {"field": "lo", "type": "quantitative"}
          }
        },
        {
          "data": {"name": "bb"},
          "mark": {"type": "line", "color": "#9b2335", "strokeWidth": 1},
          "encoding": {
            "x": {"field": "t", "type": "temporal"},
            "y": {"field": "m", "type": "quantitative"}
          }
        },
        {
          "data": {"name": "levels"},
          "mark": {"type": "rule", "strokeWidth": 1},
          "encoding": {
            "y": {"field": "p", "type": "quantitative"},
            "color": {"condition": [{"test": "datum.kind == 'last'", "value": "#d6d6d6"}, {"test": "datum.kind == 'stop'", "value": "#b3192b"}], "value": "#4caf50"}
          }
        },
        {
          "data": {"name": "trend"},
          "mark": {"type": "line", "color": "#9f52d3", "strokeWidth": 0.8},
          "encoding": {
            "x": {"field": "t", "type": "temporal"},
            "y": {"field": "p", "type": "quantitative"},
            "detail": {"field": "g", "type": "nominal"}
          }
        },
        {
          "data": {"name": "bars"},
          "mark": {"type": "rule", "strokeWidth": 0.8},
          "encoding": {
            "x": {"field": "t", "type": "temporal"},
            "y": {"field": "l", "type": "quantitative"},
            "y2": {"field": "h"},
            "color": {"condition": {"test": "datum.c >= datum.o", "value": "#3fc46a"}, "value": "#e8364f"}
          }
        },
        {
          "data": {"name": "bars"},
          "mark": {"type": "bar", "width": 1.8},
          "encoding": {
            "x": {"field": "t", "type": "temporal"},
            "y": {"field": "o", "type": "quantitative"},
            "y2": {"field": "c"},
            "color": {"condition": {"test": "datum.c >= datum.o", "value": "#3fc46a"}, "value": "#e8364f"}
          }
        },
        {
          "data": {"name": "tags"},
          "mark": {"type": "tick", "orient": "vertical", "thickness": 24, "size": 10.8, "opacity": 1},
          "encoding": {
            "x": {"datum": {"year": 2029, "month": 8, "date": 17, "utc": true}, "type": "temporal"},
            "y": {"field": "at", "type": "quantitative"},
            "color": {"condition": [{"test": "datum.kind == 'last'", "value": "#ffffff"}, {"test": "datum.kind == 'now'", "value": "#4caf50"}, {"test": "datum.kind == 'stop'", "value": "#f2182e"}], "value": "#72f53b"}
          }
        },
        {
          "data": {"name": "tags"},
          "mark": {"type": "text", "fontSize": 6.6, "align": "center", "baseline": "middle", "font": "Roboto, sans-serif"},
          "encoding": {
            "x": {"datum": {"year": 2029, "month": 8, "date": 17, "utc": true}, "type": "temporal"},
            "y": {"field": "at", "type": "quantitative"},
            "text": {"field": "label"},
            "color": {"condition": [{"test": "datum.kind == 'now' || datum.kind == 'stop'", "value": "#ffffff"}], "value": "#0a0a0a"}
          }
        },
        {
          "data": {"values": [{"label": "USD"}]},
          "mark": {"type": "tick", "orient": "vertical", "thickness": 22, "size": 16, "fill": "#000000", "stroke": "#4a4d57", "strokeWidth": 1},
          "encoding": {
            "x": {"datum": {"year": 2029, "month": 8, "date": 26, "utc": true}, "type": "temporal"},
            "y": {"datum": 732, "type": "quantitative"}
          }
        },
        {
          "data": {"values": [{"label": "USD"}]},
          "mark": {"type": "text", "fontSize": 6.8, "align": "center", "baseline": "middle", "color": "#d1d4dc", "font": "Roboto, sans-serif"},
          "encoding": {
            "x": {"datum": {"year": 2029, "month": 8, "date": 26, "utc": true}, "type": "temporal"},
            "y": {"datum": 732, "type": "quantitative"},
            "text": {"field": "label"}
          }
        }
      ]
    },
    {
      "width": 903,
      "height": 69,
      "encoding": {
        "y": {"type": "quantitative", "scale": {"domain": [-6.7, 108.3], "nice": false, "zero": false}, "axis": {"orient": "right", "title": null, "values": [0, 80], "labelExpr": "replace(format(datum.value, '.2f'), '.', ',')", "labelOverlap": false, "labelPadding": 4, "domainColor": "#333333"}}
      },
      "layer": [
        {
          "data": {"values": [{"v": 80}, {"v": 50}, {"v": 20}]},
          "mark": {"type": "rule", "color": "#6a6d75", "strokeWidth": 0.8, "strokeDash": [3, 3]},
          "encoding": {
            "y": {"field": "v", "type": "quantitative"}
          }
        },
        {
          "data": {"name": "k"},
          "mark": {"type": "line", "color": "#2196f3", "strokeWidth": 1},
          "encoding": {
            "x": {"field": "t", "type": "temporal", "scale": {"type": "utc", "domain": [{"year": 2001, "month": 4, "date": 27, "utc": true}, {"year": 2029, "month": 4, "date": 1, "utc": true}]}, "axis": {"orient": "bottom", "title": null, "tickCount": {"interval": "year", "step": 1}, "format": "%Y", "formatType": "utc", "labelPadding": 6, "labelFontSize": 6.9, "domainColor": "#333333", "labelOverlap": false}},
            "y": {"field": "v", "type": "quantitative"}
          }
        },
        {
          "data": {"name": "d"},
          "mark": {"type": "line", "color": "#ff6d00", "strokeWidth": 1},
          "encoding": {
            "x": {"field": "t", "type": "temporal"},
            "y": {"field": "v", "type": "quantitative"}
          }
        },
        {
          "data": {"name": "rsitags"},
          "mark": {"type": "tick", "orient": "vertical", "thickness": 21, "size": 10.5, "opacity": 1},
          "encoding": {
            "x": {"datum": {"year": 2029, "month": 8, "date": 1, "utc": true}, "type": "temporal"},
            "y": {"field": "v", "type": "quantitative"},
            "color": {"condition": {"test": "datum.kind == 'k'", "value": "#2196f3"}, "value": "#ff6d00"}
          }
        },
        {
          "data": {"name": "rsitags"},
          "mark": {"type": "text", "fontSize": 6.6, "align": "center", "baseline": "middle", "color": "#ffffff", "font": "Roboto, sans-serif"},
          "encoding": {
            "x": {"datum": {"year": 2029, "month": 8, "date": 1, "utc": true}, "type": "temporal"},
            "y": {"field": "v", "type": "quantitative"},
            "text": {"field": "label"}
          }
        }
      ]
    }
  ]
}
